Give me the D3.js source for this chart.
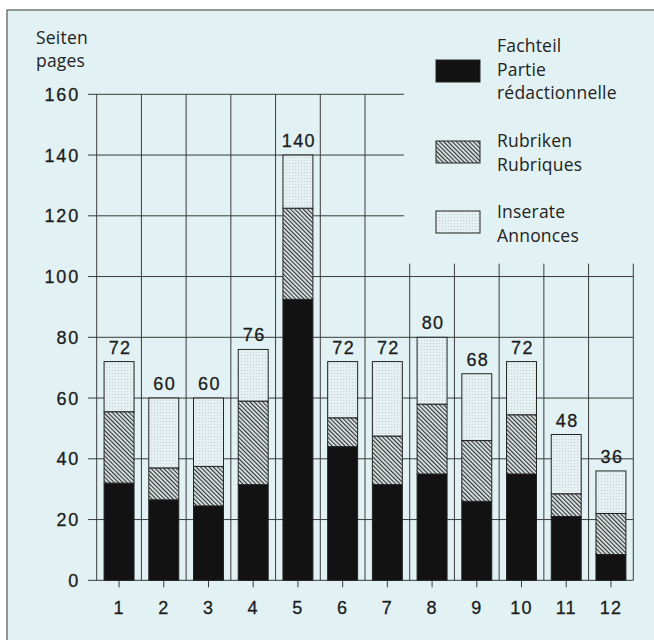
<!DOCTYPE html>
<html>
<head>
<meta charset="utf-8">
<script src="https://cdn.jsdelivr.net/npm/d3@7"></script>
<style>
  body { margin: 0; background: #fff; }
  svg { display: block; }
</style>
</head>
<body>
<svg id="chart" width="654" height="640"></svg>
<script>
// Daten
const months = ['1', '2', '3', '4', '5', '6', '7', '8', '9', '10', '11', '12'];
const fachteil = [32, 26.5, 24.5, 31.5, 92.5, 44, 31.5, 35, 26, 35, 21, 8.5];
const rubriken = [23.5, 10.5, 13, 27.5, 30, 9.5, 16, 23, 20, 19.5, 7.5, 13.5];
const inserate = [16.5, 23, 22.5, 17, 17.5, 18.5, 24.5, 22, 22, 17.5, 19.5, 14];
const totals = [72, 60, 60, 76, 140, 72, 72, 80, 68, 72, 48, 36];
const yTicks = [0, 20, 40, 60, 80, 100, 120, 140, 160];
const seriesKeys = ['fachteil', 'rubriken', 'inserate'];
const legendLabels = [
  ['Fachteil', 'Partie', 'rédactionnelle'],
  ['Rubriken', 'Rubriques'],
  ['Inserate', 'Annonces']
];

const svg = d3.select('#chart');
const bg = '#e2f2f4';
const ink = '#1c1c1c';
const numFont = '"Liberation Sans", Arial, sans-serif';
const textFont = '"Open Sans", "Noto Sans", sans-serif';

// background frame
svg.append('rect')
  .attr('x', 7).attr('y', 10).attr('width', 660).attr('height', 640)
  .attr('fill', bg).attr('stroke', '#555').attr('stroke-width', 1.2);

// patterns
const defs = svg.append('defs');
const hatch = defs.append('pattern')
  .attr('id', 'hatch').attr('patternUnits', 'userSpaceOnUse')
  .attr('width', 3).attr('height', 3)
  .attr('patternTransform', 'rotate(-45)');
hatch.append('rect').attr('width', 3).attr('height', 3).attr('fill', '#dde8e9');
hatch.append('line').attr('x1', 0.6).attr('y1', 0).attr('x2', 0.6).attr('y2', 3)
  .attr('stroke', '#2a2a2a').attr('stroke-width', 1.1);

const dots = defs.append('pattern')
  .attr('id', 'dots').attr('patternUnits', 'userSpaceOnUse')
  .attr('width', 3).attr('height', 3);
dots.append('rect').attr('width', 3).attr('height', 3).attr('fill', '#e4f0f1');
dots.append('rect').attr('x', 1).attr('y', 1).attr('width', 1).attr('height', 1).attr('fill', '#c2cecf');

const fills = { fachteil: '#121212', rubriken: 'url(#hatch)', inserate: 'url(#dots)' };

// scales
const x = d3.scaleBand().domain(months).range([96.7, 633.3]).paddingInner(0.33).paddingOuter(0.165);
const xGrid = d3.scaleBand().domain(months).range([96.7, 633.3]);
const y = d3.scaleLinear().domain([0, 160]).range([580.3, 94.3]);

const legendCutX = 404;
const legendCutY = y(100) - 13;

// gridlines (legend area is left free)
const grid = svg.append('g').attr('stroke', '#3a3a3a').attr('stroke-width', 1);
yTicks.forEach(t => {
  grid.append('line')
    .attr('x1', 88).attr('x2', t > 100 ? legendCutX : 633.3)
    .attr('y1', y(t)).attr('y2', y(t));
});
const vLines = [96.7].concat(months.map(m => xGrid(m) + xGrid.bandwidth()));
vLines.forEach(v => {
  grid.append('line')
    .attr('x1', v).attr('x2', v)
    .attr('y1', v > legendCutX ? legendCutY : y(160)).attr('y2', y(0));
});

// y axis labels
svg.append('g').selectAll('text').data(yTicks).join('text')
  .attr('x', 80).attr('y', d => y(d)).attr('dy', '0.36em')
  .attr('text-anchor', 'end')
  .attr('font-family', numFont).attr('font-size', 18).attr('letter-spacing', 1.8)
  .attr('fill', ink).attr('stroke', ink).attr('stroke-width', 0.3)
  .text(d => d);

// x axis ticks and labels
const xAxis = d3.axisBottom(x).tickSize(7).tickSizeOuter(0);
const gx = svg.append('g').attr('transform', `translate(0,${y(0)})`).call(xAxis);
gx.select('.domain').remove();
gx.selectAll('line').attr('stroke', '#3a3a3a');
gx.selectAll('text')
  .attr('y', 21).attr('dy', '0.71em')
  .attr('font-family', numFont).attr('font-size', 18).attr('letter-spacing', 1.2)
  .attr('fill', ink).attr('stroke', ink).attr('stroke-width', 0.3);

// stacked bars
const table = months.map((m, i) => ({
  month: m, fachteil: fachteil[i], rubriken: rubriken[i], inserate: inserate[i], total: totals[i]
}));
const stacked = d3.stack().keys(seriesKeys)(table);

svg.append('g').selectAll('g').data(stacked).join('g')
  .attr('fill', d => fills[d.key])
  .selectAll('rect').data(d => d).join('rect')
  .attr('x', d => x(d.data.month))
  .attr('y', d => y(d[1]))
  .attr('width', x.bandwidth())
  .attr('height', d => y(d[0]) - y(d[1]))
  .attr('stroke', '#222').attr('stroke-width', 1);

// totals above bars
svg.append('g').selectAll('text').data(table).join('text')
  .attr('x', d => x(d.month) + x.bandwidth() / 2 + 1)
  .attr('y', d => y(d.total) - 8)
  .attr('text-anchor', 'middle')
  .attr('font-family', numFont).attr('font-size', 18).attr('letter-spacing', 1.4)
  .attr('fill', ink).attr('stroke', ink).attr('stroke-width', 0.3)
  .text(d => d.total);

// axis title
const title = svg.append('text')
  .attr('font-family', textFont).attr('font-size', 17.5).attr('letter-spacing', 0.2).attr('fill', '#222');
title.append('tspan').attr('x', 36).attr('y', 44).text('Seiten');
title.append('tspan').attr('x', 36).attr('y', 67).text('pages');

// legend
const legendSwatchY = [60, 141, 211];
const legendTextY = [52, 147, 218];
const legend = svg.append('g');
seriesKeys.forEach((k, i) => {
  legend.append('rect')
    .attr('x', 436).attr('y', legendSwatchY[i]).attr('width', 44).attr('height', 22)
    .attr('fill', fills[k]).attr('stroke', '#222').attr('stroke-width', 1);
  const t = legend.append('text')
    .attr('font-family', textFont).attr('font-size', 17.5).attr('letter-spacing', 0.2).attr('fill', '#222');
  legendLabels[i].forEach((line, j) => {
    t.append('tspan').attr('x', 497).attr('y', legendTextY[i] + j * 23.5).text(line);
  });
});
</script>
</body>
</html>
